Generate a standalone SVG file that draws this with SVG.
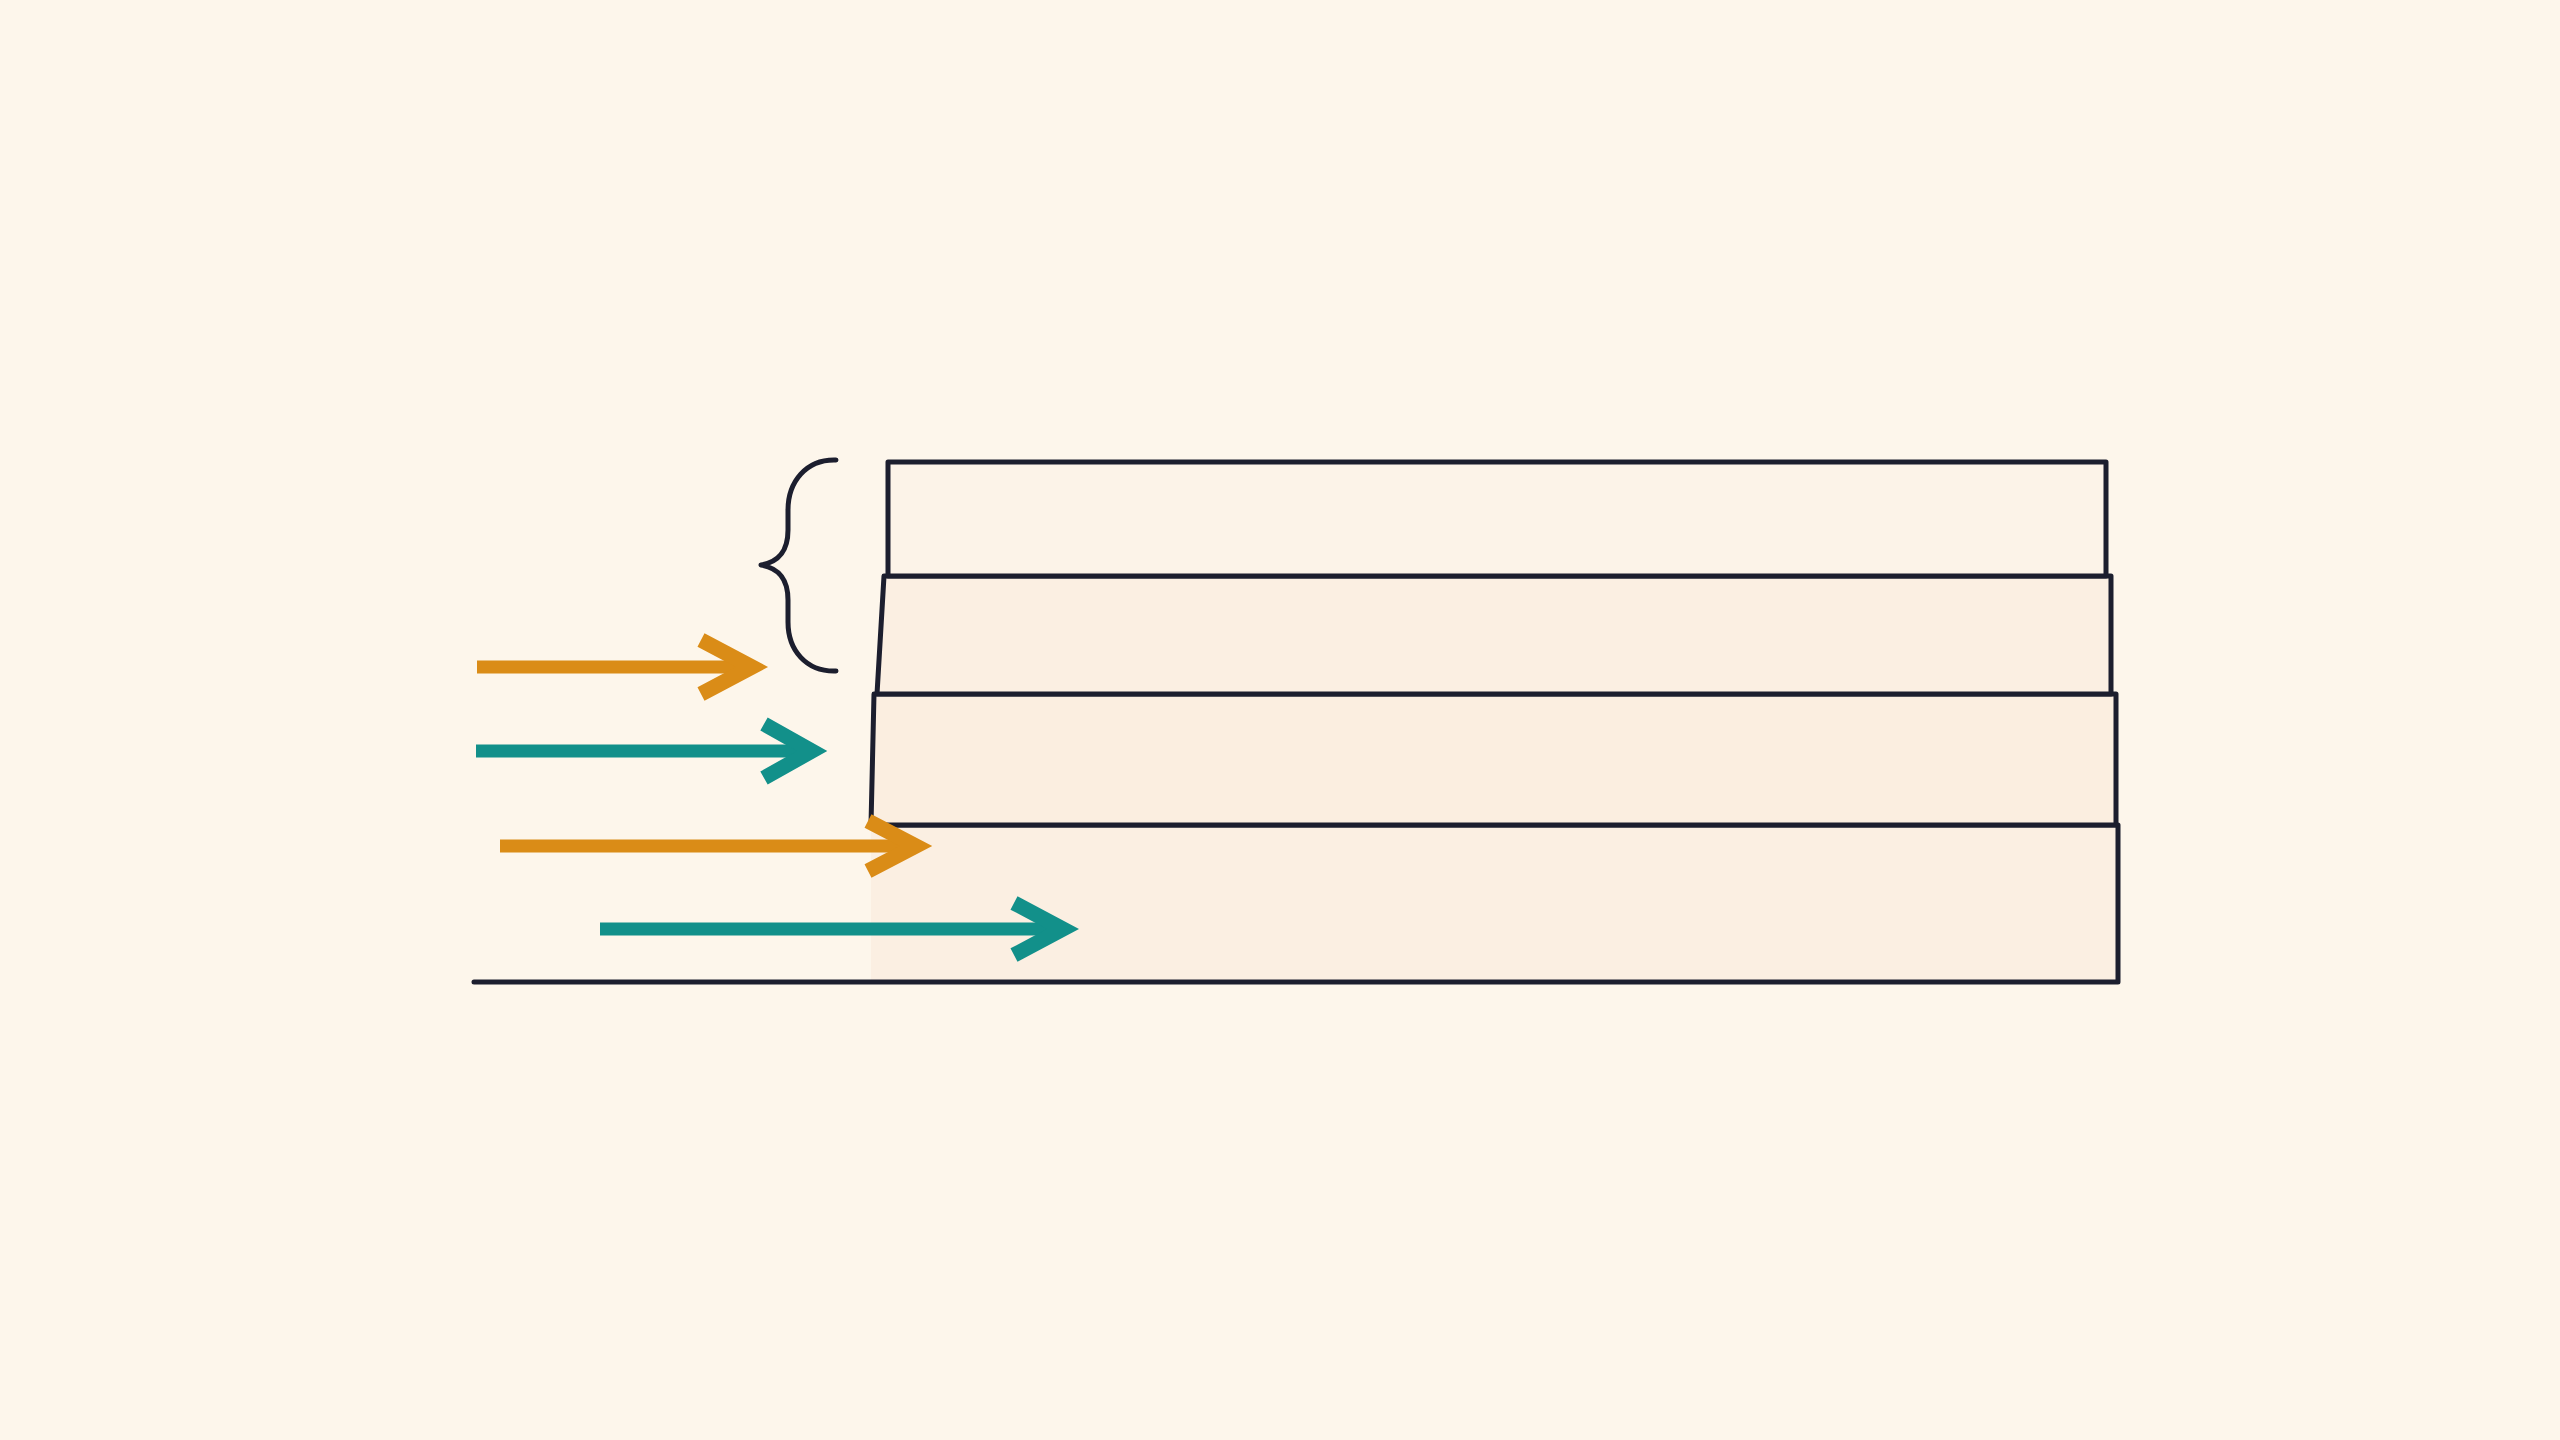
<svg xmlns="http://www.w3.org/2000/svg" width="2560" height="1440" viewBox="0 0 2560 1440">
  <style>
    .box { stroke: #1c1e2e; stroke-width: 5; stroke-linejoin: round; stroke-linecap: round; }
    .line { fill: none; stroke: #1c1e2e; stroke-width: 5; stroke-linecap: round; stroke-linejoin: round; }
    .shaft { fill: none; stroke-width: 13; stroke-linecap: butt; }
    .head { fill: none; stroke-width: 15; stroke-linecap: butt; stroke-linejoin: miter; stroke-miterlimit: 10; }
    .orange { stroke: #da8c17; }
    .teal { stroke: #12908a; }
  </style>
  <rect x="0" y="0" width="2560" height="1440" fill="#fdf6eb"/>

  <g id="layer4">
    <path fill="#fbefe2" d="M871,825 L2118,825 L2118,982 L871,982 Z"/>
    <path class="line" d="M871,825 L2118,825 L2118,982 L474,982"/>
  </g>
  <g id="layer3">
    <path class="box" fill="#fbeee0" d="M871,825 L874,694 L2116,694 L2116,825 Z"/>
  </g>
  <g id="layer2">
    <path class="box" fill="#fbefe2" d="M877,694 L884,576 L2111,576 L2111,694 Z"/>
  </g>
  <g id="layer1">
    <path class="box" fill="#fcf3e8" d="M888,576 L888,462 L2106,462 L2106,576 Z"/>
  </g>

  <g id="brace">
    <path class="line" d="M836,460 C806,459 788,482 788,510 L788,530 C788,552 778,562 761,565 C778,568 788,578 788,600 L788,622 C788,650 806,672 836,671"/>
  </g>

  <g id="connectors">
    <g id="arrow1">
      <line class="shaft orange" x1="477" y1="667" x2="755" y2="667"/>
      <polyline class="head orange" points="701,640 752,667 701,694"/>
    </g>
    <g id="arrow2">
      <line class="shaft teal" x1="476" y1="751" x2="815" y2="751"/>
      <polyline class="head teal" points="764,724 812,751 764,778"/>
    </g>
    <g id="arrow3">
      <line class="shaft orange" x1="500" y1="846" x2="919" y2="846"/>
      <polyline class="head orange" points="868,821 916,846 868,871"/>
    </g>
    <g id="arrow4">
      <line class="shaft teal" x1="600" y1="929" x2="1066" y2="929"/>
      <polyline class="head teal" points="1014,903 1063,929 1014,955"/>
    </g>
  </g>
</svg>
